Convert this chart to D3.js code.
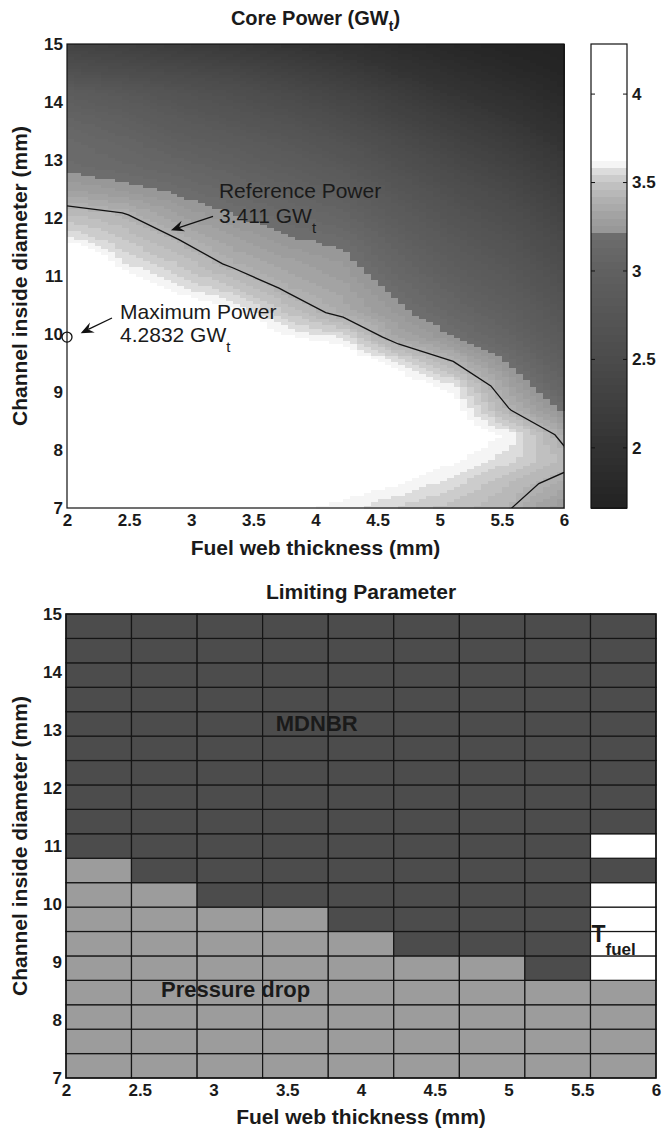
<!DOCTYPE html>
<html><head><meta charset="utf-8">
<script src="https://cdn.jsdelivr.net/npm/d3@7"></script>
<style>
body{margin:0;background:#fff}
text{font-family:"Liberation Sans",Arial,sans-serif;fill:#1a1a1a}
</style>
</head><body>
<svg id="c" width="662" height="1136"></svg>
<script>
// ---------------- DATA ----------------
const xNodes = [2, 2.444, 2.889, 3.333, 3.778, 4.222, 4.667, 5.111, 5.556, 6];           // fuel web thickness (mm)
const yNodes = [7, 7.421, 7.842, 8.263, 8.684, 9.105, 9.526, 9.947, 10.368, 10.789,
                11.211, 11.632, 12.053, 12.474, 12.895, 13.316, 13.737, 14.158, 14.579, 15]; // channel ID (mm)
// core power (GWt), one row per channel diameter, bottom (7 mm) to top (15 mm)
const powerRows = [
  [3.80, 3.78, 3.75, 3.70, 3.65, 3.60, 3.54, 3.48, 3.42, 3.25],
  [3.86, 3.84, 3.82, 3.78, 3.73, 3.68, 3.63, 3.56, 3.46, 3.37],
  [3.92, 3.90, 3.88, 3.85, 3.80, 3.75, 3.70, 3.64, 3.56, 3.46],
  [3.98, 3.96, 3.93, 3.90, 3.85, 3.80, 3.75, 3.70, 3.62, 3.37],
  [4.05, 4.02, 3.98, 3.93, 3.88, 3.82, 3.76, 3.68, 3.42, 3.21],
  [4.12, 4.08, 4.02, 3.95, 3.88, 3.80, 3.70, 3.60, 3.32, 3.08],
  [4.20, 4.12, 4.00, 3.92, 3.80, 3.72, 3.59, 3.41, 3.21, 2.97],
  [4.2832, 4.10, 3.92, 3.80, 3.64, 3.59, 3.34, 3.23, 3.08, 2.86],
  [4.20, 3.95, 3.75, 3.65, 3.50, 3.37, 3.25, 3.12, 2.98, 2.76],
  [4.05, 3.75, 3.60, 3.52, 3.39, 3.32, 3.18, 3.03, 2.88, 2.66],
  [3.85, 3.59, 3.505, 3.39, 3.32, 3.26, 3.10, 2.93, 2.78, 2.56],
  [3.61, 3.507, 3.413, 3.31, 3.23, 3.19, 3.01, 2.83, 2.68, 2.46],
  [3.47, 3.425, 3.30, 3.225, 3.15, 3.08, 2.90, 2.72, 2.57, 2.36],
  [3.31, 3.256, 3.20, 3.12, 3.05, 2.96, 2.78, 2.60, 2.45, 2.25],
  [3.19, 3.15, 3.10, 3.02, 2.93, 2.82, 2.64, 2.47, 2.33, 2.14],
  [3.15, 3.08, 2.98, 2.90, 2.80, 2.68, 2.50, 2.34, 2.20, 2.02],
  [3.06, 2.98, 2.85, 2.75, 2.65, 2.52, 2.35, 2.20, 2.07, 1.90],
  [2.92, 2.82, 2.70, 2.60, 2.48, 2.36, 2.20, 2.05, 1.93, 1.80],
  [2.60, 2.52, 2.45, 2.38, 2.28, 2.16, 2.02, 1.90, 1.80, 1.72],
  [2.35, 2.28, 2.20, 2.12, 2.05, 1.97, 1.86, 1.77, 1.70, 1.66]
];
const referencePower = 3.411;
// limiting parameter per cell (M = MDNBR, P = pressure drop, T = fuel temperature), bottom row first
const limitRows = [
  "PPPPPPPPP","PPPPPPPPP","PPPPPPPPP","PPPPPPPPP",
  "PPPPPPPMT","PPPPPMMMT","PPPPMMMMT","PPMMMMMMT","PMMMMMMMM","MMMMMMMMT",
  "MMMMMMMMM","MMMMMMMMM","MMMMMMMMM","MMMMMMMMM","MMMMMMMMM",
  "MMMMMMMMM","MMMMMMMMM","MMMMMMMMM","MMMMMMMMM"
];
const xTicks = [2, 2.5, 3, 3.5, 4, 4.5, 5, 5.5, 6];
const yTicks = [7, 8, 9, 10, 11, 12, 13, 14, 15];
const cbTicks = [2, 2.5, 3, 3.5, 4];

// ---------------- STYLE ----------------
const limitColors = {M: "#4c4c4c", P: "#9c9c9c", T: "#ffffff"};
const grayMap = d3.scaleLinear()
  .domain([1.6, 2.0, 2.5, 3.0, 3.22, 3.225, 3.3, 3.4, 3.5, 3.58, 3.62, 4.4])
  .range([32, 50, 75, 96, 110, 150, 160, 176, 195, 225, 255, 255]).clamp(true);
const nLev = 64;

const svg = d3.select("#c");
const TOP = {l: 67, r: 564, t: 44, b: 508};
const BOT = {l: 66, r: 656, t: 614, b: 1078};
const CB = {l: 591, r: 627};

const x1 = d3.scaleLinear().domain([2, 6]).range([TOP.l, TOP.r]);
const y1 = d3.scaleLinear().domain([7, 15]).range([TOP.b, TOP.t]);
const x2 = d3.scaleLinear().domain([2, 6]).range([BOT.l, BOT.r]);
const y2 = d3.scaleLinear().domain([7, 15]).range([BOT.b, BOT.t]);

const flat = powerRows.flat();
const cmin = d3.min(flat), cmax = d3.max(flat);
const cbScale = d3.scaleLinear().domain([cmin, cmax]).range([TOP.b, TOP.t]);
function colorOf(v) {
  let k = Math.floor((v - cmin) / (cmax - cmin) * nLev);
  k = Math.max(0, Math.min(nLev - 1, k));
  const vc = cmin + (k + 0.5) * (cmax - cmin) / nLev;
  const g = Math.round(grayMap(vc));
  return `rgb(${g},${g},${g})`;
}
function interp(x, y) {
  const i = Math.max(0, Math.min(xNodes.length - 2, d3.bisectRight(xNodes, x) - 1));
  const j = Math.max(0, Math.min(yNodes.length - 2, d3.bisectRight(yNodes, y) - 1));
  const tx = (x - xNodes[i]) / (xNodes[i + 1] - xNodes[i]);
  const ty = (y - yNodes[j]) / (yNodes[j + 1] - yNodes[j]);
  const P = powerRows;
  return (1 - tx) * (1 - ty) * P[j][i] + tx * (1 - ty) * P[j][i + 1] +
         (1 - tx) * ty * P[j + 1][i] + tx * ty * P[j + 1][i + 1];
}

// ---------------- TOP PLOT ----------------
svg.append("defs").append("clipPath").attr("id", "clipTop")
  .append("rect").attr("x", TOP.l).attr("y", TOP.t)
  .attr("width", TOP.r - TOP.l).attr("height", TOP.b - TOP.t);

const sub = 8;
const fx = [], fy = [];
for (let i = 0; i < xNodes.length - 1; i++)
  for (let s = 0; s <= sub; s++) if (!(s === sub && i < xNodes.length - 2)) fx.push(xNodes[i] + (xNodes[i + 1] - xNodes[i]) * s / sub);
for (let j = 0; j < yNodes.length - 1; j++)
  for (let s = 0; s <= sub; s++) if (!(s === sub && j < yNodes.length - 2)) fy.push(yNodes[j] + (yNodes[j + 1] - yNodes[j]) * s / sub);
const fine = [];
for (let a = 0; a < fx.length - 1; a++)
  for (let b = 0; b < fy.length - 1; b++)
    fine.push({x0: fx[a], x1: fx[a + 1], y0: fy[b], y1: fy[b + 1],
               v: interp((fx[a] + fx[a + 1]) / 2, (fy[b] + fy[b + 1]) / 2)});
svg.append("g").attr("shape-rendering", "crispEdges")
  .selectAll("rect").data(fine).join("rect")
  .attr("x", d => x1(d.x0)).attr("y", d => y1(d.y1))
  .attr("width", d => x1(d.x1) - x1(d.x0) + 0.6)
  .attr("height", d => y1(d.y0) - y1(d.y1) + 0.6)
  .attr("fill", d => colorOf(d.v));

// reference-power contour
const nx = xNodes.length, ny = yNodes.length;
const dxN = (xNodes[nx - 1] - xNodes[0]) / (nx - 1), dyN = (yNodes[ny - 1] - yNodes[0]) / (ny - 1);
const cont = d3.contours().size([nx, ny]).thresholds([referencePower])(flat);
const proj = p => [x1(xNodes[0] + (p[0] - 0.5) * dxN), y1(yNodes[0] + (p[1] - 0.5) * dyN)];
const cPath = cont[0].coordinates.map(poly => poly.map(ring =>
  "M" + ring.map(p => proj(p).map(v => v.toFixed(2)).join(",")).join("L") + "Z").join("")).join("");
svg.append("path").attr("d", cPath).attr("fill", "none").attr("stroke", "#111")
  .attr("stroke-width", 1.3).attr("clip-path", "url(#clipTop)");

svg.append("rect").attr("x", TOP.l).attr("y", TOP.t).attr("width", TOP.r - TOP.l)
  .attr("height", TOP.b - TOP.t).attr("fill", "none").attr("stroke", "#111").attr("stroke-width", 1.2);

function styleAxis(g) {
  g.select(".domain").remove();
  g.selectAll(".tick line").remove();
  g.selectAll("text").attr("font-size", 17).attr("font-weight", "bold")
    .attr("font-family", '"Liberation Sans",Arial,sans-serif').attr("fill", "#1a1a1a");
}
const fmt = d => String(d);
svg.append("g").attr("transform", `translate(${TOP.l},0)`)
  .call(d3.axisLeft(y1).tickValues(yTicks).tickFormat(fmt).tickSize(0).tickPadding(4)).call(styleAxis);
svg.append("g").attr("transform", `translate(0,${TOP.b})`)
  .call(d3.axisBottom(x1).tickValues(xTicks).tickFormat(fmt).tickSize(0).tickPadding(6)).call(styleAxis);

// titles / labels
const tt = svg.append("text").attr("x", (TOP.l + TOP.r) / 2).attr("y", 25).attr("text-anchor", "middle")
  .attr("font-size", 20).attr("font-weight", "bold");
tt.append("tspan").text("Core Power (GW");
tt.append("tspan").text("t").attr("font-size", 14).attr("dy", 6);
tt.append("tspan").text(")").attr("dy", -6);

svg.append("text").attr("x", (TOP.l + TOP.r) / 2).attr("y", 555).attr("text-anchor", "middle")
  .attr("font-size", 21).attr("font-weight", "bold").text("Fuel web thickness (mm)");
svg.append("text").attr("transform", `translate(27,${(TOP.t + TOP.b) / 2}) rotate(-90)`)
  .attr("text-anchor", "middle").attr("font-size", 21).attr("font-weight", "bold")
  .text("Channel inside diameter (mm)");

// max power marker
let best = {v: -Infinity};
powerRows.forEach((row, j) => row.forEach((v, i) => { if (v > best.v) best = {v, i, j}; }));
svg.append("circle").attr("cx", x1(xNodes[best.i])).attr("cy", y1(yNodes[best.j])).attr("r", 5)
  .attr("fill", "none").attr("stroke", "#111").attr("stroke-width", 1.3);

function arrow(xa, ya, xb, yb) {
  const ang = Math.atan2(yb - ya, xb - xa), L = 13, Wd = 5.5;
  const bx = xb - L * Math.cos(ang), by = yb - L * Math.sin(ang);
  const nxp = -Math.sin(ang), nyp = Math.cos(ang);
  const mx = xb - 0.65 * L * Math.cos(ang), my = yb - 0.65 * L * Math.sin(ang);
  svg.append("line").attr("x1", xa).attr("y1", ya).attr("x2", mx).attr("y2", my)
    .attr("stroke", "#111").attr("stroke-width", 1.3);
  svg.append("path").attr("d", `M${xb},${yb}L${bx + nxp * Wd},${by + nyp * Wd}L${mx},${my}L${bx - nxp * Wd},${by - nyp * Wd}Z`)
    .attr("fill", "#111");
}
// annotations (data coordinates)
const annRef = {x: 3.223, y1: 12.345, y2: 11.914, ax: 3.175, ay: 12.03, bx: 2.837, by: 11.79};
const annMax = {x: 2.427, y1: 10.26, y2: 9.862, ax: 2.362, ay: 10.276, bx: 2.11, by: 10.015};
function annotate(a, line1, line2) {
  svg.append("text").attr("x", x1(a.x)).attr("y", y1(a.y1)).attr("font-size", 21).text(line1);
  const t = svg.append("text").attr("x", x1(a.x)).attr("y", y1(a.y2)).attr("font-size", 21);
  t.append("tspan").text(line2);
  t.append("tspan").text("t").attr("font-size", 15).attr("dy", 10);
  arrow(x1(a.ax), y1(a.ay), x1(a.bx), y1(a.by));
}
annotate(annRef, "Reference Power", `${referencePower} GW`);
annotate(annMax, "Maximum Power", `${best.v} GW`);

// colorbar
const levels = d3.range(nLev).map(k => cmin + k * (cmax - cmin) / nLev);
svg.append("g").attr("shape-rendering", "crispEdges").selectAll("rect").data(levels).join("rect")
  .attr("x", CB.l).attr("width", CB.r - CB.l)
  .attr("y", d => cbScale(d + (cmax - cmin) / nLev))
  .attr("height", d => cbScale(d) - cbScale(d + (cmax - cmin) / nLev) + 0.6)
  .attr("fill", d => colorOf(d + 0.5 * (cmax - cmin) / nLev));
svg.append("rect").attr("x", CB.l).attr("y", TOP.t).attr("width", CB.r - CB.l).attr("height", TOP.b - TOP.t)
  .attr("fill", "none").attr("stroke", "#111").attr("stroke-width", 1.2);
svg.append("g").attr("transform", `translate(${CB.r},0)`)
  .call(d3.axisRight(cbScale).tickValues(cbTicks).tickFormat(fmt).tickSize(0).tickPadding(5)).call(styleAxis);
svg.append("g").selectAll("line").data(cbTicks.flatMap(t => [[CB.l, t, 1], [CB.r, t, -1]])).join("line")
  .attr("x1", d => d[0]).attr("x2", d => d[0] + d[2] * 4)
  .attr("y1", d => cbScale(d[1])).attr("y2", d => cbScale(d[1]))
  .attr("stroke", "#111").attr("stroke-width", 1);

// ---------------- BOTTOM PLOT ----------------
const cells = [];
limitRows.forEach((row, j) => row.split("").forEach((c, i) => cells.push({i, j, c})));
svg.append("g").selectAll("rect").data(cells).join("rect")
  .attr("x", d => x2(xNodes[d.i])).attr("y", d => y2(yNodes[d.j + 1]))
  .attr("width", d => x2(xNodes[d.i + 1]) - x2(xNodes[d.i]))
  .attr("height", d => y2(yNodes[d.j]) - y2(yNodes[d.j + 1]))
  .attr("fill", d => limitColors[d.c]).attr("stroke", "#151515").attr("stroke-width", 1.2);
svg.append("rect").attr("x", BOT.l).attr("y", BOT.t).attr("width", BOT.r - BOT.l)
  .attr("height", BOT.b - BOT.t).attr("fill", "none").attr("stroke", "#111").attr("stroke-width", 1.4);

svg.append("g").attr("transform", `translate(${BOT.l},0)`)
  .call(d3.axisLeft(y2).tickValues(yTicks).tickFormat(fmt).tickSize(0).tickPadding(4)).call(styleAxis);
svg.append("g").attr("transform", `translate(0,${BOT.b})`)
  .call(d3.axisBottom(x2).tickValues(xTicks).tickFormat(fmt).tickSize(0).tickPadding(6)).call(styleAxis);

svg.append("text").attr("x", (BOT.l + BOT.r) / 2).attr("y", 599).attr("text-anchor", "middle")
  .attr("font-size", 21).attr("font-weight", "bold").text("Limiting Parameter");
svg.append("text").attr("x", (BOT.l + BOT.r) / 2).attr("y", 1124).attr("text-anchor", "middle")
  .attr("font-size", 21).attr("font-weight", "bold").text("Fuel web thickness (mm)");
svg.append("text").attr("transform", `translate(27,${(BOT.t + BOT.b) / 2}) rotate(-90)`)
  .attr("text-anchor", "middle").attr("font-size", 21).attr("font-weight", "bold")
  .text("Channel inside diameter (mm)");

// region labels (data coordinates)
svg.append("text").attr("x", x2(3.70)).attr("y", y2(12.98)).attr("text-anchor", "middle")
  .attr("font-size", 22).attr("font-weight", "bold").text("MDNBR");
svg.append("text").attr("x", x2(3.15)).attr("y", y2(8.40)).attr("text-anchor", "middle")
  .attr("font-size", 22).attr("font-weight", "bold").text("Pressure drop");
const tf = svg.append("text").attr("x", x2(5.556) + 1).attr("y", y2(9.34))
  .attr("font-size", 23).attr("font-weight", "bold");
tf.append("tspan").text("T");
tf.append("tspan").text("fuel").attr("font-size", 17).attr("dy", 13);
</script>
</body></html>
